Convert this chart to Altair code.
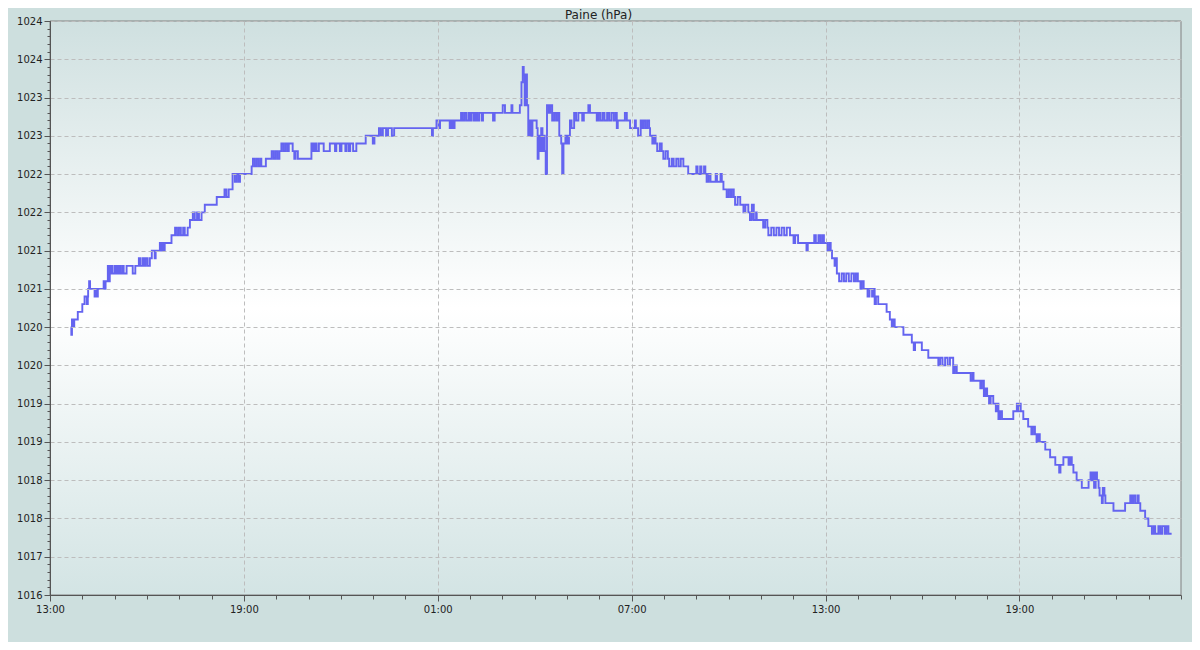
import json
import altair as alt
import pandas as pd

# time in hours after 13:00 of day 1, pressure (hPa, axis units)
hours = [
    0.64, 0.66, 0.68, 0.72, 0.75, 0.86, 1.00, 1.07, 1.14, 1.17, 1.18, 1.21, 1.24, 1.38, 1.43, 1.45, 1.48,
    1.66, 1.69, 1.72, 1.79, 1.82, 1.85, 1.88, 1.91, 1.93, 2.00, 2.03, 2.08, 2.11, 2.16, 2.19, 2.25, 2.28,
    2.37, 2.56, 2.64, 2.75, 2.80, 2.87, 2.92, 2.96, 3.02, 3.09, 3.15, 3.24, 3.27, 3.40, 3.44, 3.49, 3.52,
    3.55, 3.76, 3.87, 3.93, 3.99, 4.05, 4.12, 4.17, 4.26, 4.33, 4.42, 4.48, 4.55, 4.61, 4.69, 4.79, 5.16,
    5.40, 5.46, 5.53, 5.65, 5.72, 5.78, 5.84, 5.88,
    6.24, 6.28, 6.34, 6.40, 6.46, 6.52, 6.54, 6.68, 6.86, 6.92, 6.98, 7.04, 7.10, 7.16, 7.22, 7.28, 7.34,
    7.39, 7.51, 7.56, 7.60, 7.67, 8.09, 8.14, 8.20, 8.25, 8.32, 8.47, 8.66, 8.82, 8.86, 8.97, 9.02, 9.14,
    9.18, 9.25, 9.29, 9.38, 9.48, 9.77, 9.99, 10.04, 10.18, 10.24, 10.30, 10.40, 10.46, 10.58, 10.65,
    11.82, 11.85, 11.96,
    12.03, 12.07, 12.37, 12.42, 12.47, 12.52, 12.72, 12.76, 12.82, 12.88, 12.95, 13.00, 13.05, 13.12,
    13.17, 13.22, 13.28, 13.36, 13.40, 13.71, 13.76, 14.01, 14.08, 14.28, 14.31, 14.54, 14.59, 14.63,
    14.66, 14.69, 14.72, 14.76, 14.80, 14.84, 14.88, 14.93, 15.06, 15.09, 15.12, 15.15, 15.20, 15.24,
    15.28, 15.31, 15.34, 15.38, 15.44, 15.48, 15.54, 15.60, 15.66, 15.72, 15.76, 15.82, 15.85, 15.89,
    15.95, 16.00, 16.06, 16.09, 16.14, 16.22, 16.28, 16.35, 16.47, 16.52, 16.66, 16.71, 16.92, 16.97,
    17.03, 17.10, 17.16, 17.24, 17.30, 17.37, 17.44, 17.50, 17.54, 17.57, 17.79, 17.85, 17.95,
    18.10, 18.13, 18.20, 18.28, 18.32, 18.36, 18.42, 18.48, 18.54, 18.57, 18.64, 18.69, 18.74, 18.79,
    18.87, 18.93, 18.98, 19.05, 19.12, 19.16, 19.24, 19.30, 19.38, 19.45, 19.52, 19.60, 19.75, 20.00,
    20.04, 20.12, 20.16, 20.24, 20.28, 20.32, 20.38, 20.44, 20.60, 20.64, 20.75, 20.79, 20.84, 20.94,
    21.00, 21.06, 21.10, 21.16, 21.20, 21.28, 21.36, 21.46, 21.52, 21.61, 21.66, 21.72, 21.78, 21.85,
    21.87, 22.07, 22.13, 22.20, 22.23, 22.32, 22.40, 22.48, 22.56, 22.64, 22.72, 22.80, 22.90, 23.01,
    23.06, 23.15, 23.41, 23.45, 23.65, 23.70, 23.78, 23.84, 23.90, 23.95,
    24.06, 24.12, 24.16, 24.20, 24.28, 24.32, 24.35, 24.42, 24.50, 24.57, 24.64, 24.72, 24.80, 24.88,
    24.94, 25.00, 25.08, 25.12, 25.18, 25.30, 25.36, 25.44, 25.48, 25.52, 25.56, 25.63, 25.89, 25.99,
    26.05, 26.09, 26.14, 26.41, 26.67, 26.73, 26.77, 26.98, 27.18, 27.49, 27.55, 27.62, 27.70, 27.78,
    27.85, 27.95, 28.00, 28.06, 28.49, 28.55, 28.58, 28.79, 28.84, 28.90, 28.95, 29.00, 29.06, 29.11,
    29.19, 29.27, 29.32, 29.35, 29.40, 29.46, 29.81, 29.92, 29.96, 30.00, 30.04, 30.12,
    30.27, 30.37, 30.42, 30.48, 30.53, 30.58, 30.63, 30.80, 30.95, 31.11, 31.23, 31.27, 31.36, 31.52,
    31.57, 31.62, 31.67, 31.77, 31.93, 32.14, 32.20, 32.24, 32.29, 32.31, 32.36, 32.40, 32.45, 32.48,
    32.55, 32.58, 32.63, 32.66, 32.91, 33.27, 33.43, 33.47, 33.52, 33.58, 33.65, 33.69, 33.74, 33.89,
    33.99, 34.10, 34.16, 34.20, 34.30, 34.36, 34.42, 34.50, 34.55, 34.61, 34.71,
]
pressure = [
    1019.5, 1019.4, 1019.6, 1019.5, 1019.6, 1019.7, 1019.8, 1019.9, 1019.8, 1019.9, 1020.0, 1020.1, 1020.0,
    1019.9, 1020.0, 1019.9, 1020.0,
    1020.1, 1020.0, 1020.1, 1020.3, 1020.1, 1020.3, 1020.2, 1020.3, 1020.2, 1020.3, 1020.2, 1020.3, 1020.2,
    1020.3, 1020.2, 1020.3, 1020.2,
    1020.3, 1020.2, 1020.3, 1020.4, 1020.3, 1020.4, 1020.3, 1020.4, 1020.3, 1020.4, 1020.5, 1020.4, 1020.5,
    1020.6, 1020.5, 1020.6, 1020.5,
    1020.6, 1020.7, 1020.8, 1020.7, 1020.8, 1020.7, 1020.8, 1020.7, 1020.8, 1020.9, 1021.0, 1020.9, 1021.0,
    1020.9, 1021.0, 1021.1, 1021.2,
    1021.3, 1021.2, 1021.3, 1021.5, 1021.4, 1021.5, 1021.4, 1021.5,
    1021.6, 1021.7, 1021.6, 1021.7, 1021.6, 1021.7, 1021.6, 1021.7, 1021.8, 1021.7, 1021.8, 1021.7, 1021.8,
    1021.9, 1021.8, 1021.9, 1021.8,
    1021.9, 1021.8, 1021.7, 1021.8, 1021.7, 1021.9, 1021.8, 1021.9, 1021.8, 1021.9, 1021.8, 1021.9, 1021.8,
    1021.9, 1021.8, 1021.9, 1021.8,
    1021.9, 1021.8, 1021.9, 1021.8, 1021.9, 1022.0, 1021.9, 1022.0, 1022.1, 1022.0, 1022.1, 1022.0, 1022.1,
    1022.0, 1022.1,
    1022.0, 1022.1, 1022.2,
    1022.1, 1022.2, 1022.1, 1022.2, 1022.1, 1022.2, 1022.3, 1022.2, 1022.3, 1022.2, 1022.3, 1022.2, 1022.3,
    1022.2,
    1022.3, 1022.2, 1022.3, 1022.2, 1022.3, 1022.2, 1022.3, 1022.4, 1022.3, 1022.4, 1022.3, 1022.4, 1022.7,
    1022.9,
    1022.8, 1022.4, 1022.8, 1022.4, 1022.0, 1022.2, 1022.0, 1022.2, 1022.1, 1021.7, 1022.0, 1021.8, 1022.1,
    1021.8,
    1022.0, 1021.8, 1021.5, 1022.4, 1022.3, 1022.4, 1022.2, 1022.3, 1022.2, 1022.3, 1022.0, 1021.9, 1021.5,
    1021.9,
    1022.0, 1021.9, 1022.0, 1022.2, 1022.1, 1022.3, 1022.2, 1022.3, 1022.2, 1022.3, 1022.4, 1022.3, 1022.2,
    1022.3,
    1022.2, 1022.3, 1022.2, 1022.3, 1022.2, 1022.3, 1022.2, 1022.3, 1022.1, 1022.2, 1022.3, 1022.2, 1022.1,
    1022.2, 1022.1, 1022.0, 1022.2, 1022.1, 1022.2, 1022.1, 1022.2, 1022.1, 1022.0, 1021.9, 1022.0, 1021.9,
    1021.8,
    1021.9, 1021.8, 1021.7, 1021.8, 1021.7, 1021.6, 1021.7, 1021.6, 1021.7, 1021.6, 1021.7, 1021.6, 1021.5,
    1021.6,
    1021.5, 1021.6, 1021.5, 1021.6, 1021.5, 1021.4, 1021.5, 1021.4, 1021.5, 1021.4, 1021.5, 1021.4, 1021.3,
    1021.2,
    1021.3, 1021.2, 1021.3, 1021.2, 1021.1, 1021.2, 1021.1, 1021.0, 1021.1, 1021.0, 1020.9, 1021.1, 1020.9,
    1021.0,
    1020.9, 1020.8, 1020.9, 1020.8, 1020.7, 1020.8, 1020.7, 1020.8, 1020.7, 1020.8, 1020.7, 1020.8, 1020.7,
    1020.6,
    1020.7, 1020.6, 1020.5, 1020.6, 1020.7, 1020.6, 1020.7, 1020.6, 1020.7, 1020.6,
    1020.5, 1020.6, 1020.5, 1020.4, 1020.3, 1020.4, 1020.2, 1020.1, 1020.2, 1020.1, 1020.2, 1020.1, 1020.2,
    1020.1,
    1020.2, 1020.1, 1020.0, 1020.1, 1020.0, 1019.9, 1020.0, 1019.9, 1020.0, 1019.8, 1019.9, 1019.8, 1019.7,
    1019.6,
    1019.5, 1019.6, 1019.5, 1019.4, 1019.3, 1019.2, 1019.3, 1019.2, 1019.1, 1019.0, 1019.1, 1019.0, 1019.1,
    1019.0,
    1019.1, 1018.9, 1019.0, 1018.9, 1018.8, 1018.9, 1018.8, 1018.7, 1018.8, 1018.6, 1018.7, 1018.6, 1018.5,
    1018.6,
    1018.5, 1018.4, 1018.5, 1018.3, 1018.4, 1018.3, 1018.4, 1018.5, 1018.4, 1018.5, 1018.4, 1018.3,
    1018.2, 1018.1, 1018.2, 1018.1, 1018.0, 1018.1, 1018.0, 1017.9, 1017.8, 1017.7, 1017.6, 1017.7, 1017.8,
    1017.7,
    1017.8, 1017.7, 1017.6, 1017.5, 1017.4, 1017.5, 1017.6, 1017.5, 1017.6, 1017.4, 1017.6, 1017.5, 1017.4,
    1017.3,
    1017.2, 1017.4, 1017.3, 1017.2, 1017.1, 1017.2, 1017.3, 1017.2, 1017.3, 1017.2, 1017.3, 1017.2, 1017.1,
    1017.0,
    1016.9, 1016.8, 1016.9, 1016.8, 1016.9, 1016.8, 1016.9, 1016.8, 1016.9, 1016.8, 1016.8,
]

title_text = ["Paine (hPa)"]
x_major = [0, 6, 12, 18, 24, 30]
x_labels = ["13:00", "19:00", "01:00", "07:00", "13:00", "19:00"]
x_minor = list(range(0, 36))
y_major = [1016.0, 1016.5, 1017.0, 1017.5, 1018.0, 1018.5, 1019.0, 1019.5,
           1020.0, 1020.5, 1021.0, 1021.5, 1022.0, 1022.5, 1023.0, 1023.5]
y_labels = ["1016", "1017", "1018", "1018", "1019", "1019", "1020", "1020",
            "1021", "1021", "1022", "1022", "1023", "1023", "1024", "1024"]
y_minor = [round(1016 + 0.1 * i, 1) for i in range(76)]

W, H = 1131, 574
FONT = "DejaVu Sans"

df = pd.DataFrame({"h": hours, "p": pressure})

xscale = alt.Scale(domain=[0, 35], nice=False, zero=False)
yscale = alt.Scale(domain=[1016, 1023.5], nice=False, zero=False)

x_expr = f"{json.dumps(x_labels)}[indexof({json.dumps(x_major)}, datum.value)]"
y_expr = f"{json.dumps(y_labels)}[indexof({json.dumps(y_major)}, datum.value)]"

grad = alt.Gradient(
    gradient="linear", x1=0, x2=0, y1=0, y2=1,
    stops=[alt.GradientStop(offset=0, color="#cfe0e0"),
           alt.GradientStop(offset=0.5, color="#ffffff"),
           alt.GradientStop(offset=1, color="#d3e4e4")],
)

bg = alt.Chart(pd.DataFrame({"k": [0]})).mark_rect(
    fill=grad, stroke="#808080", strokeWidth=1
).encode(x=alt.value(0), x2=alt.value(W), y=alt.value(0), y2=alt.value(H))

title = alt.Chart(pd.DataFrame({"t": title_text})).mark_text(
    font=FONT, fontSize=12, color="#222222", align="center", baseline="middle"
).encode(text="t:N", x=alt.value(548.5), y=alt.value(-6))

line = alt.Chart(df).mark_line(
    interpolate="step-after", color="#6464f0", strokeWidth=1.9, clip=True
).encode(
    x=alt.X("h:Q", scale=xscale, axis=alt.Axis(
        values=x_major, labelExpr=x_expr, grid=True, gridDash=[4, 3], gridColor="#bdbdbd",
        tickSize=6, tickColor="#555555", domainColor="#555555", labelFont=FONT, labelFontSize=10,
        labelColor="#222222", title=None, orient="bottom", zindex=1, labelPadding=3,
        labelFlush=False, labelOverlap=False)),
    y=alt.Y("p:Q", scale=yscale, axis=alt.Axis(
        values=y_major, labelExpr=y_expr, grid=True, gridDash=[4, 3], gridColor="#bdbdbd",
        tickSize=6, tickColor="#555555", domainColor="#555555", labelFont=FONT, labelFontSize=10,
        labelColor="#222222", title=None, orient="left", zindex=1, labelPadding=2,
        labelOverlap=False)),
)

minor = alt.Chart(df).mark_line(opacity=0).encode(
    x=alt.X("h:Q", scale=xscale, axis=alt.Axis(
        values=x_minor, labels=False, tickSize=4, domain=False, grid=False, orient="bottom",
        title=None, tickColor="#555555", zindex=1)),
    y=alt.Y("p:Q", scale=yscale, axis=alt.Axis(
        values=y_minor, labels=False, tickSize=3, domain=False, grid=False, orient="left",
        title=None, tickColor="#555555", zindex=1)),
)

chart = alt.layer(bg, line, minor, title).resolve_axis(x="independent", y="independent").properties(
    width=W, height=H,
    autosize="none",
    padding={"left": 42, "top": 13, "right": 11, "bottom": 47},
).configure(background="#cddfde").configure_view(stroke=None)

chart.save("out.html", embed_options={"renderer": "svg", "actions": False})
